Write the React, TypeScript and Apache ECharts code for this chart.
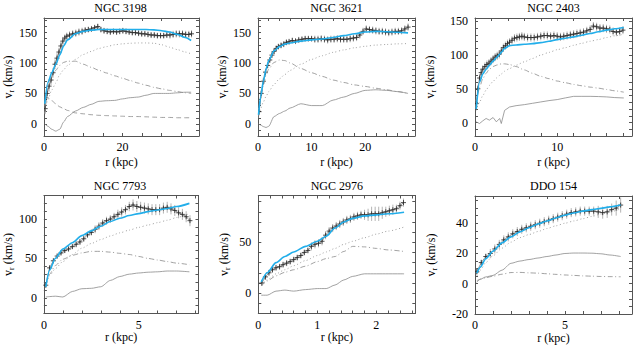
import React, { useEffect, useRef } from 'react';
import * as echarts from 'echarts';

// ---------------- NGC 3198 ----------------
const n3198ObsR = [0.3, 0.8, 1.3, 1.8, 2.3, 2.8, 3.3, 3.8, 4.3, 4.8, 5.3, 5.8, 6.5, 7.3, 8.1, 8.9, 9.7, 10.5, 11.3, 12.1, 12.9, 13.7, 14.5, 15.3, 16.1, 16.9, 17.7, 18.5, 19.3, 20.1, 20.9, 21.7, 22.5, 23.3, 24.1, 24.9, 25.7, 26.5, 27.3, 28.1, 28.9, 29.7, 30.5, 31.3, 32.1, 32.9, 33.7, 34.5, 35.3, 36.1, 36.9, 37.6];
const n3198ObsV = [25, 50, 62, 72, 84, 98, 108, 118, 128, 136, 141, 144, 146, 148, 149, 151, 152, 154, 155, 156, 158, 160, 155, 153, 152, 151, 152, 151, 152, 153, 152, 151, 150, 150, 149, 148, 148, 147, 146, 146, 145, 145, 145, 146, 146, 147, 148, 148, 148, 147, 147, 148];
const n3198ObsE = [9, 9, 9, 8, 8, 8, 8, 7, 7, 7, 6, 6, 6, 6, 6, 6, 6, 5, 5, 5, 5, 5, 5, 5, 5, 5, 5, 5, 5, 5, 5, 5, 5, 5, 5, 5, 5, 5, 5, 5, 5, 5, 5, 5, 6, 6, 6, 6, 6, 6, 6, 6];
const n3198ModR = [0.2, 1, 2, 3, 4, 5, 6, 8, 10, 12, 14, 16, 18, 20, 22, 24, 26, 28, 30, 32, 34, 36, 37.5];
const n3198Fit = [33, 68, 84, 98, 113, 128, 138, 148, 152, 154, 155, 155, 155, 155, 155, 155, 155, 154.5, 153, 151, 147, 142, 137];
const n3198Halo = [18, 40, 56, 67, 81, 89, 96, 106, 114, 119, 124, 127, 130, 131.5, 132.5, 133, 133, 132.5, 130, 126, 122, 118, 115];
const n3198Disk = [35, 58, 77, 88, 96, 101, 103, 103, 98, 93, 88, 83.5, 79, 75, 71, 67, 63.5, 60, 57.5, 55, 53, 51, 50];
const n3198Bulge = [44, 43, 38, 33, 28, 25, 22, 18, 16.5, 15, 14, 13.5, 13, 12.5, 12, 12, 11.5, 11, 10.5, 10.5, 10, 10, 10];
const n3198Gas = [0, -4, -9, -12, -9, 3, 12, 21, 27, 32, 37, 38, 38.5, 41, 43, 44, 47, 50, 50, 50, 51, 52, 52];

// ---------------- NGC 3621 ----------------
const n3621ObsR = [0.2, 0.6, 1, 1.4, 1.8, 2.2, 2.6, 3, 3.4, 3.8, 4.3, 4.8, 5.3, 5.8, 6.4, 7, 7.6, 8.2, 8.8, 9.4, 10, 10.6, 11.2, 11.8, 12.4, 13, 13.6, 14.2, 14.8, 15.4, 16, 16.6, 17.2, 17.8, 18.4, 19, 19.6, 20.2, 20.8, 21.4, 22, 22.6, 23.2, 23.8, 24.4, 25, 25.6, 26.2, 26.8, 27.4, 28];
const n3621ObsV = [20, 50, 70, 85, 96, 105, 113, 119, 124, 127, 129, 131, 134, 135, 137, 136, 138, 139, 140, 140, 140, 139, 139, 140, 139, 138, 139, 139, 140, 139, 139, 139, 140, 141, 142, 146, 152, 156, 155, 154, 153, 152, 152, 151, 150, 151, 152, 152, 153, 156, 159];
const n3621ObsE = [6, 6, 6, 6, 5, 5, 5, 5, 5, 5, 5, 5, 5, 5, 5, 5, 5, 5, 5, 5, 5, 6, 6, 6, 6, 6, 6, 6, 6, 6, 6, 6, 6, 6, 6, 6, 6, 6, 6, 6, 6, 6, 6, 6, 6, 6, 6, 6, 6, 6, 6];
const n3621ModR = [0.1, 0.5, 1, 1.5, 2, 3, 4, 5, 6, 8, 10, 12, 14, 16, 18, 20, 22, 24, 26, 28];
const n3621Fit = [15, 45, 70, 90, 104, 120, 127, 131, 133, 136, 138, 139.5, 142, 145, 148, 151, 152, 151.5, 150.5, 149.5];
const n3621Halo = [10, 25, 36, 45, 53, 65, 74, 81, 88, 98, 106, 112, 117.5, 121.5, 125, 127.5, 129.5, 130.5, 131.5, 132];
const n3621Disk = [12, 40, 63, 80, 90, 101, 105, 104, 100, 91, 84, 78, 72, 68, 64, 61.5, 58.5, 56, 53, 50];
const n3621Gas = [0, -2, -4.5, -6, -4, 12, 17, 21, 26, 33, 30, 30, 39, 44, 50, 55, 56, 55, 53, 50];

// ---------------- NGC 2403 ----------------
const n2403ObsR = [0.15, 0.35, 0.55, 0.75, 0.95, 1.2, 1.45, 1.7, 1.95, 2.2, 2.45, 2.7, 2.95, 3.2, 3.45, 3.7, 3.95, 4.2, 4.5, 4.8, 5.1, 5.4, 5.7, 6, 6.4, 6.8, 7.2, 7.6, 8, 8.4, 8.8, 9.2, 9.6, 10, 10.4, 10.8, 11.2, 11.6, 12, 12.4, 12.8, 13.2, 13.6, 14, 14.4, 14.8, 15.2, 15.6, 16, 16.4, 16.8, 17.2, 17.6, 18];
const n2403ObsV = [28, 50, 66, 74, 79, 83, 86, 88, 91, 94, 97, 99, 101, 106, 111, 114, 117, 119, 122, 125, 126, 127, 128, 127, 126, 126, 126, 127, 128, 129, 129, 128, 129, 128, 127, 128, 129, 130, 131, 132, 133, 134, 136, 138, 143, 142, 140, 140, 139, 138, 135, 134, 135, 137];
const n2403ObsE = [6, 6, 6, 6, 6, 6, 6, 6, 6, 6, 6, 6, 6, 6, 6, 6, 6, 6, 6, 6, 6, 6, 6, 6, 6, 6, 6, 6, 6, 6, 6, 6, 6, 6, 6, 6, 6, 6, 6, 6, 6, 6, 6, 6, 6, 6, 6, 6, 6, 6, 6, 6, 6, 6];
const n2403ModR = [0.15, 0.55, 0.95, 1.35, 1.75, 2.2, 2.6, 3.0, 3.2, 3.6, 4.2, 5, 6, 7, 8, 9, 10, 11, 12, 13, 14, 15, 16, 17, 18.1];
const n2403Fit = [20, 60, 72, 79, 85, 91, 96, 101, 104, 110, 114, 115, 116, 117, 118.5, 120.5, 123, 125, 127, 129.5, 132, 134.5, 137, 139, 141];
const n2403Halo = [18, 30, 40, 48, 55, 61, 66, 70, 72, 76, 80, 85, 90, 95, 100, 104, 108, 111, 114.5, 117.5, 120.5, 123, 126, 128.5, 131];
const n2403Disk = [25, 52, 65, 73, 79, 83, 85, 86.5, 87, 87, 86, 83, 78, 73, 68.5, 65, 61.5, 59, 56.5, 54.5, 52.5, 51, 49, 47, 45];
const n2403Gas = [1, -1.5, 2.5, 6, 3.5, 7.4, 1, 6, -1.5, 18, 23, 25, 26.5, 28.5, 30.5, 32.5, 34, 36.5, 38.8, 38.8, 38.8, 38.5, 38, 37, 36.4];

// ---------------- NGC 7793 ----------------
const n7793ObsR = [0.1, 0.3, 0.5, 0.7, 0.9, 1.1, 1.3, 1.5, 1.7, 1.9, 2.1, 2.3, 2.5, 2.7, 2.9, 3.1, 3.3, 3.5, 3.7, 3.9, 4.1, 4.3, 4.5, 4.7, 4.9, 5.1, 5.3, 5.5, 5.7, 5.9, 6.1, 6.3, 6.5, 6.7, 6.9, 7.1, 7.3, 7.5, 7.7];
const n7793ObsV = [16, 38, 47, 53, 57, 60, 62, 65, 68, 71, 75, 80, 83, 87, 91, 95, 98, 100, 103, 106, 109, 112, 116, 118, 116, 115, 114, 113, 112, 112, 112, 114, 115, 113, 111, 108, 106, 103, 98];
const n7793ObsE = [3, 3, 3, 3, 3, 3, 3, 3, 4, 4, 4, 4, 4, 5, 5, 5, 5, 5, 5, 6, 6, 6, 6, 7, 7, 7, 7, 7, 7, 7, 7, 7, 7, 7, 7, 7, 7, 7, 7];
const n7793ModR = [0.1, 0.3, 0.6, 1, 1.5, 2, 2.5, 3, 3.5, 4, 4.5, 5, 5.5, 6, 6.5, 7, 7.67];
const n7793Fit = [14, 35, 50, 62, 70, 79, 85, 91, 97, 101, 104.5, 107, 109.5, 111.5, 113.5, 116, 120];
const n7793Halo = [15, 28, 37, 46, 55, 63, 69, 74, 78.5, 82.5, 86, 89.5, 92.5, 95.5, 98.5, 102, 107];
const n7793Disk = [15, 30, 41, 49, 54, 57, 59, 59, 58, 56.5, 55, 52.5, 50, 48, 46, 44, 42];
const n7793Gas = [1, 1.5, 2, 1, 8, 11.5, 12, 14, 22, 27, 30, 31.5, 32.5, 33, 34, 34, 33];

// ---------------- NGC 2976 ----------------
const n2976ObsR = [0.06, 0.12, 0.18, 0.24, 0.3, 0.36, 0.42, 0.48, 0.54, 0.6, 0.66, 0.72, 0.78, 0.84, 0.9, 0.96, 1.02, 1.08, 1.14, 1.2, 1.26, 1.32, 1.38, 1.44, 1.5, 1.56, 1.62, 1.68, 1.74, 1.8, 1.86, 1.92, 1.98, 2.04, 2.1, 2.16, 2.22, 2.28, 2.34, 2.4, 2.46];
const n2976ObsV = [10, 16, 20, 23, 25, 26, 28, 29.5, 31, 33, 35, 37, 40, 42, 46, 48, 49, 51, 57, 61, 64, 66, 68, 70, 72, 73, 75, 76, 77, 77, 77, 78, 78, 78, 79, 80, 81, 82, 83, 86, 89];
const n2976ObsE = [3, 3, 3, 3, 3, 3, 3, 3, 3, 3, 3, 3, 3, 3, 4, 4, 4, 4, 4, 4, 4, 4, 4, 4, 4, 4, 4, 4, 4, 5, 6, 7, 7, 7, 6, 5, 5, 5, 4, 4, 4];
const n2976ModR = [0.05, 0.15, 0.3, 0.45, 0.6, 0.8, 1.0, 1.15, 1.3, 1.45, 1.6, 1.8, 2.0, 2.2, 2.47];
const n2976Fit = [11, 20, 30, 36, 40.5, 46, 51, 56, 64, 70, 73.5, 76, 77, 78, 79.5];
const n2976Halo = [8, 13, 19, 23, 27, 32, 37, 40.5, 44, 48, 51, 54.5, 58, 61, 65];
const n2976Disk = [7, 12, 17, 20.5, 23, 26.5, 31, 34, 36, 41, 46, 45.5, 44, 42.5, 41];
const n2976Gas = [-2, -2, 2, 3, 2, 3.5, 4.5, 4.5, 8, 13, 16.5, 19, 19, 19, 19];

// ---------------- DDO 154 ----------------
const d154ObsR = [0.1, 0.35, 0.6, 0.85, 1.1, 1.35, 1.6, 1.85, 2.1, 2.35, 2.6, 2.85, 3.1, 3.35, 3.6, 3.85, 4.1, 4.35, 4.6, 4.85, 5.1, 5.35, 5.6, 5.85, 6.1, 6.35, 6.6, 6.85, 7.1, 7.35, 7.6, 7.85, 8.1];
const d154ObsV = [8, 14, 18, 20, 23, 26, 29, 31, 33, 34.5, 36, 37, 38, 39, 40, 41, 42, 43, 44, 45, 46, 47, 47.5, 48, 48, 48, 48, 47.5, 47, 47.5, 49, 50, 52];
const d154ObsE = [2, 2, 2, 3, 3, 3, 3, 3, 3, 3, 3, 3, 3, 3, 3, 3, 3, 3, 3, 3, 3, 3, 3, 3, 3, 3, 3, 4, 4, 4, 4, 5, 5];
const d154ModR = [0.1, 0.3, 0.6, 1, 1.5, 2, 2.5, 3, 3.5, 4, 4.5, 5, 5.5, 6, 6.5, 7, 7.5, 8.1];
const d154Fit = [7, 11, 16.5, 21.5, 27, 31, 34.3, 37, 39.5, 41.5, 43.5, 45.3, 46.8, 48, 49, 49.8, 50.8, 52];
const d154Halo = [5, 9, 14, 18.5, 23.5, 27.5, 30.5, 32.5, 34.5, 36.5, 38.3, 40, 41.5, 43, 44.5, 46, 47.5, 49.5];
const d154Disk = [2, 3, 4, 5, 6.3, 7.4, 7.5, 7.2, 7, 6.6, 6.2, 5.8, 5.5, 5.2, 5, 4.8, 4.7, 4.6];
const d154Gas = [1, 3, 4.5, 5.5, 9, 13.5, 15, 16, 17, 18, 19, 20, 20.3, 20.3, 20.2, 19.8, 19, 18];

const titles = ['NGC 3198', 'NGC 3621', 'NGC 2403', 'NGC 7793', 'NGC 2976', 'DDO 154'];

type Panel = {
  title: string;
  obsR: number[]; obsV: number[]; obsE: number[];
  modR: number[]; fit: number[]; halo: number[]; disk: number[]; gas: number[]; bulge?: number[];
  xMax: number; xTick: number; xLab: number;
  yMin: number; yMax: number; yTick: number; yLab: number;
  left: number; top: number; yNameGap: number; xNameGap: number;
};

const panels: Panel[] = [
  { title: titles[0], obsR: n3198ObsR, obsV: n3198ObsV, obsE: n3198ObsE, modR: n3198ModR, fit: n3198Fit, halo: n3198Halo, disk: n3198Disk, gas: n3198Gas, bulge: n3198Bulge,
    xMax: 39.5, xTick: 5, xLab: 20, yMin: -20, yMax: 174, yTick: 10, yLab: 50, left: 42, top: 18, yNameGap: 29, xNameGap: 20 },
  { title: titles[1], obsR: n3621ObsR, obsV: n3621ObsV, obsE: n3621ObsE, modR: n3621ModR, fit: n3621Fit, halo: n3621Halo, disk: n3621Disk, gas: n3621Gas,
    xMax: 29.3, xTick: 2, xLab: 10, yMin: -20, yMax: 174, yTick: 10, yLab: 50, left: 258, top: 18, yNameGap: 29, xNameGap: 20 },
  { title: titles[2], obsR: n2403ObsR, obsV: n2403ObsV, obsE: n2403ObsE, modR: n2403ModR, fit: n2403Fit, halo: n2403Halo, disk: n2403Disk, gas: n2403Gas,
    xMax: 19.1, xTick: 2, xLab: 10, yMin: -20, yMax: 155, yTick: 10, yLab: 50, left: 475, top: 18, yNameGap: 38, xNameGap: 20 },
  { title: titles[3], obsR: n7793ObsR, obsV: n7793ObsV, obsE: n7793ObsE, modR: n7793ModR, fit: n7793Fit, halo: n7793Halo, disk: n7793Disk, gas: n7793Gas,
    xMax: 8.15, xTick: 1, xLab: 5, yMin: -20, yMax: 130, yTick: 10, yLab: 50, left: 41.5, top: 195.5, yNameGap: 27, xNameGap: 17 },
  { title: titles[4], obsR: n2976ObsR, obsV: n2976ObsV, obsE: n2976ObsE, modR: n2976ModR, fit: n2976Fit, halo: n2976Halo, disk: n2976Disk, gas: n2976Gas,
    xMax: 2.66, xTick: 0.2, xLab: 1, yMin: -20, yMax: 96, yTick: 10, yLab: 50, left: 258.3, top: 195.5, yNameGap: 27, xNameGap: 17 },
  { title: titles[5], obsR: d154ObsR, obsV: d154ObsV, obsE: d154ObsE, modR: d154ModR, fit: d154Fit, halo: d154Halo, disk: d154Disk, gas: d154Gas,
    xMax: 8.73, xTick: 1, xLab: 5, yMin: -20, yMax: 58, yTick: 5, yLab: 20, left: 475, top: 196, yNameGap: 37, xNameGap: 17 },
];

const FONT = 'Liberation Serif';
const AXIS_COLOR = '#555';
const MODEL_COLOR = '#8a8a8a';
const FIT_COLOR = '#22aeea';
const GRID_W = 157;
const GRID_H = 118;

const pairs = (xs: number[], ys: number[]) => xs.map((x, i) => [x, ys[i]]);
const labelFmt = (step: number) => (v: number) => {
  const q = v / step;
  return Math.abs(q - Math.round(q)) < 1e-6 ? String(Math.round(v * 1000) / 1000) : '';
};

function buildOption() {
  const grid: any[] = [];
  const xAxis: any[] = [];
  const yAxis: any[] = [];
  const series: any[] = [];
  const title: any[] = [];

  panels.forEach((p, i) => {
    grid.push({ left: p.left, top: p.top, width: GRID_W, height: GRID_H, containLabel: false });
    title.push({
      text: p.title, left: p.left + GRID_W / 2, top: p.top - 16, textAlign: 'center', padding: 0,
      textStyle: { fontFamily: FONT, fontSize: 12, fontWeight: 'normal', color: '#000' },
    });
    const tickCommon = { show: true, inside: true, length: 3, lineStyle: { color: AXIS_COLOR, width: 1 } };
    const lineCommon = { show: true, onZero: false, lineStyle: { color: AXIS_COLOR, width: 1 } };
    const xBase = { type: 'value', gridIndex: i, min: 0, max: p.xMax, interval: p.xTick, splitLine: { show: false }, axisLine: lineCommon, axisTick: tickCommon };
    xAxis.push({
      ...xBase, position: 'bottom',
      axisLabel: { formatter: labelFmt(p.xLab), margin: 5, fontFamily: FONT, fontSize: 12, color: '#000', showMaxLabel: false },
      name: 'r (kpc)', nameLocation: 'middle', nameGap: p.xNameGap,
      nameTextStyle: { fontFamily: FONT, fontSize: 12, color: '#000' },
    });
    xAxis.push({ ...xBase, position: 'top', axisLabel: { show: false } });
    const yBase = { type: 'value', gridIndex: i, min: p.yMin, max: p.yMax, interval: p.yTick, splitLine: { show: false }, axisLine: lineCommon, axisTick: tickCommon };
    yAxis.push({
      ...yBase, position: 'left',
      axisLabel: { formatter: labelFmt(p.yLab), margin: 7, fontFamily: FONT, fontSize: 12, color: '#000', showMaxLabel: false },
      name: '{a|v}{b|r}{a| (km/s)}', nameLocation: 'middle', nameGap: p.yNameGap, nameRotate: 90,
      nameTextStyle: {
        fontFamily: FONT, fontSize: 12, color: '#000',
        rich: {
          a: { fontFamily: FONT, fontSize: 12, color: '#000', lineHeight: 14 },
          b: { fontFamily: FONT, fontSize: 8, color: '#000', lineHeight: 14, padding: [6, 0, 0, 0] },
        },
      },
    });
    yAxis.push({ ...yBase, position: 'right', axisLabel: { show: false } });

    const xi = 2 * i;
    const yi = 2 * i;
    const lineBase = { type: 'line', xAxisIndex: xi, yAxisIndex: yi, showSymbol: false, symbol: 'none', silent: true, clip: true, smooth: 0.25, smoothMonotone: 'x' };

    series.push({ ...lineBase, name: 'gas', data: pairs(p.modR, p.gas), smooth: i === 2 ? false : 0.25, lineStyle: { color: MODEL_COLOR, width: 0.8, type: 'solid' } });
    series.push({ ...lineBase, name: 'disk', data: pairs(p.modR, p.disk), lineStyle: { color: MODEL_COLOR, width: 0.8, type: [5, 2.5, 1, 2.5] } });
    series.push({ ...lineBase, name: 'halo', data: pairs(p.modR, p.halo), lineStyle: { color: MODEL_COLOR, width: 0.8, type: [1, 2.5] } });
    if (p.bulge) {
      series.push({ ...lineBase, name: 'bulge', data: pairs(p.modR, p.bulge), lineStyle: { color: MODEL_COLOR, width: 0.8, type: [5, 3] } });
    }
    // observed points with error bars
    series.push({
      type: 'custom', xAxisIndex: xi, yAxisIndex: yi, silent: true, clip: true,
      data: p.obsR.map((r, k) => [r, p.obsV[k], p.obsE[k]]),
      encode: { x: 0, y: 1 },
      renderItem: (_params: any, api: any) => {
        const x = api.value(0);
        const y = api.value(1);
        const e = api.value(2);
        const c = api.coord([x, y]);
        const t = api.coord([x, y + e]);
        const b = api.coord([x, y - e]);
        return {
          type: 'group',
          children: [
            { type: 'line', shape: { x1: c[0], y1: t[1], x2: c[0], y2: b[1] }, style: { stroke: '#b4b4b4', lineWidth: 1 } },
            { type: 'line', shape: { x1: c[0] - 2.5, y1: c[1], x2: c[0] + 2.5, y2: c[1] }, style: { stroke: '#222', lineWidth: 0.8 } },
            { type: 'line', shape: { x1: c[0], y1: c[1] - 2.5, x2: c[0], y2: c[1] + 2.5 }, style: { stroke: '#222', lineWidth: 0.8 } },
          ],
        };
      },
    });
    series.push({ ...lineBase, name: 'obs', data: pairs(p.obsR, p.obsV), smooth: false, lineStyle: { color: '#333', width: 0.5 } });
    series.push({ ...lineBase, name: 'fit', data: pairs(p.modR, p.fit), lineStyle: { color: FIT_COLOR, width: 1.6 } });
  });

  return { animation: false, backgroundColor: '#fff', title, grid, xAxis, yAxis, series };
}

export default function App() {
  const ref = useRef<HTMLDivElement>(null);
  useEffect(() => {
    if (!ref.current) return;
    const chart = echarts.init(ref.current, undefined, { renderer: 'svg' });
    chart.setOption(buildOption() as any);
    return () => chart.dispose();
  }, []);
  return <div ref={ref} style={{ position: 'absolute', left: 0, top: 0, width: 635, height: 347, background: '#fff' }} />;
}
